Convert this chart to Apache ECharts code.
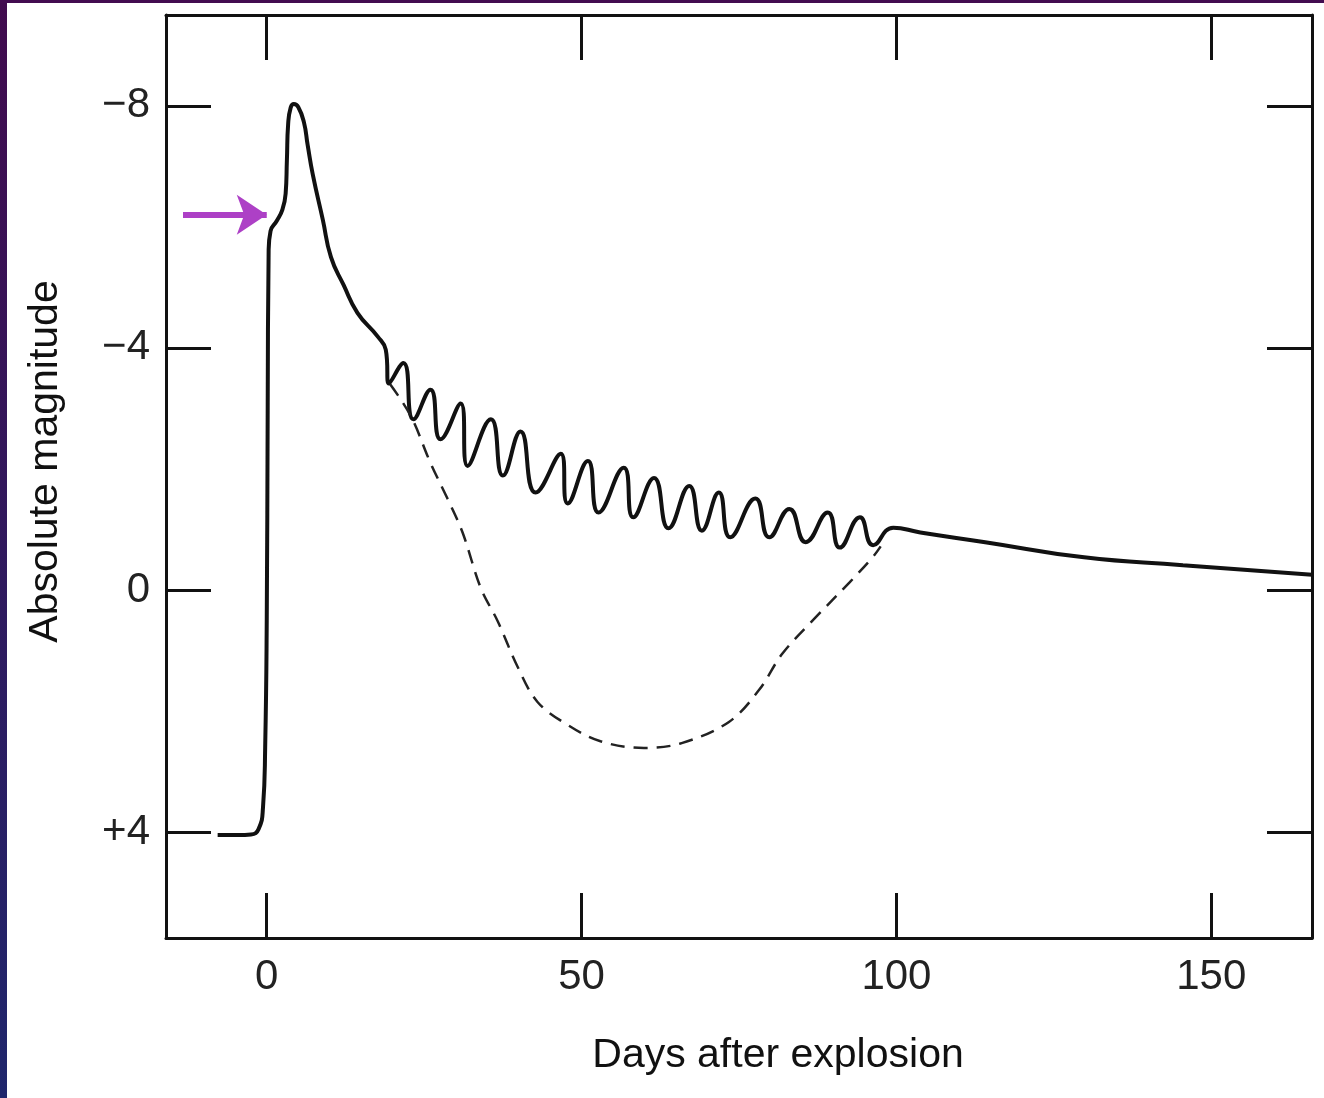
<!DOCTYPE html>
<html>
<head>
<meta charset="utf-8">
<script src="https://cdn.jsdelivr.net/npm/echarts@6/dist/echarts.min.js"></script>
<style>
html, body { margin: 0; padding: 0; background: #fff; }
#chart { width: 1324px; height: 1098px; }
</style>
</head>
<body>
<div id="chart"></div>
<script>
// tick values and labels
var xTicks = [0, 50, 100, 150];
var yTicks = [-8, -4, 0, 4];
var yTickLabels = ['\u22128', '\u22124', '0', '+4'];

// observed light curve [days, absolute magnitude]
var lightCurve = [
    [-7.8, 4.05], [-4.5, 4.05], [-2.5, 4.04], [-1.3, 3.95], [-0.6, 3.6],
    [-0.25, 2.6], [0.0, 0.5], [0.15, -3.0], [0.3, -5.6], [0.6, -5.93],
    [1.6, -6.10], [2.5, -6.29], [3.0, -6.55], [3.2, -7.1], [3.4, -7.7],
    [3.8, -7.97], [4.3, -8.03], [5.0, -7.98], [5.9, -7.73], [6.5, -7.35],
    [7.3, -6.87], [8.9, -6.12], [10.2, -5.50], [12.2, -5.04], [14.4, -4.58],
    [17.6, -4.19], [18.9, -3.97], [19.4, -3.41], [21.7, -3.75], [23.3, -2.82],
    [26.0, -3.31], [27.6, -2.49], [30.8, -3.08], [31.9, -2.05], [35.6, -2.82],
    [37.5, -1.89], [40.3, -2.62], [42.7, -1.61], [46.7, -2.25], [47.8, -1.43],
    [51.0, -2.13], [52.7, -1.28], [56.7, -2.02], [58.2, -1.20], [61.5, -1.85],
    [63.8, -1.02], [67.1, -1.72], [69.1, -0.98], [71.8, -1.61], [73.6, -0.87],
    [77.6, -1.51], [79.8, -0.87], [83.0, -1.34], [85.6, -0.79], [89.1, -1.28],
    [91.0, -0.70], [94.2, -1.20], [96.3, -0.74], [99.5, -1.03], [103.8, -0.95],
    [114.1, -0.79], [129.8, -0.54], [145.5, -0.41], [166, -0.25]
];

// dashed curve under the oscillations
var dipCurve = [
    [19.6, -3.4], [22.9, -2.87], [26.0, -2.10], [28.7, -1.51], [31.1, -0.95],
    [34.0, -0.03], [36.7, 0.52], [39.8, 1.26], [43.0, 1.85], [47.8, 2.23],
    [53.0, 2.50], [59.9, 2.61], [65.9, 2.53], [73.4, 2.18], [78.2, 1.65],
    [81.9, 1.05], [87.2, 0.45], [92.6, -0.13], [96.3, -0.55], [97.5, -0.72]
];

// arrow pointing at the shoulder
var arrowFrom = [-13.3, -6.2];
var arrowTo = [0.0, -6.2];

var font = 'Liberation Sans, Arial, sans-serif';
var black = '#111';

function frameAxis(pos, isX) {
    return {
        type: 'value',
        position: pos,
        min: isX ? -16 : -9.5,
        max: isX ? 166 : 5.75,
        inverse: !isX,
        axisLine: { show: true, onZero: false, lineStyle: { color: black, width: 3 } },
        axisTick: {
            show: true, inside: true, length: 45,
            customValues: isX ? xTicks : yTicks,
            lineStyle: { color: black, width: 3 }
        },
        axisLabel: { show: false },
        splitLine: { show: false }
    };
}

var xBottom = frameAxis('bottom', true);
xBottom.axisLabel = {
    show: true, customValues: xTicks, fontSize: 42, fontFamily: font,
    color: '#222', margin: 18
};
xBottom.name = 'Days after explosion';
xBottom.nameLocation = 'middle';
xBottom.nameGap = 97;
xBottom.nameTextStyle = { fontSize: 41, fontFamily: font, color: '#111', padding: [0, 0, 0, 78] };

var yLeft = frameAxis('left', false);
yLeft.axisLabel = {
    show: true, customValues: yTicks, fontSize: 42, fontFamily: font,
    color: '#222', margin: 16,
    formatter: function (v) { return yTickLabels[yTicks.indexOf(v)]; }
};
yLeft.name = 'Absolute magnitude';
yLeft.nameLocation = 'middle';
yLeft.nameGap = 100;
yLeft.nameTextStyle = { fontSize: 41, fontFamily: font, color: '#111', padding: [0, 0, 0, 30] };

var chart = echarts.init(document.getElementById('chart'));
chart.setOption({
    animation: false,
    backgroundColor: '#fff',
    grid: { left: 166, right: 12, top: 15, bottom: 160, outerBoundsMode: 'none' },
    xAxis: [xBottom, frameAxis('top', true)],
    yAxis: [yLeft, frameAxis('right', false)],
    graphic: [
        {
            type: 'rect', shape: { x: 0, y: 0, width: 7, height: 1098 },
            style: { fill: new echarts.graphic.LinearGradient(0, 0, 0, 1, [
                { offset: 0, color: '#410b4e' }, { offset: 1, color: '#1f266c' }
            ]) }
        },
        { type: 'rect', shape: { x: 0, y: 0, width: 1324, height: 3 }, style: { fill: '#430c50' } }
    ],
    series: [
        {
            type: 'line',
            data: lightCurve,
            showSymbol: false,
            smooth: 0.5,
            lineStyle: { color: black, width: 4 },
            markLine: {
                silent: true,
                symbol: ['none', 'arrow'],
                symbolSize: [30, 30],
                label: { show: false },
                lineStyle: { color: '#ad40c6', width: 6, type: 'solid', cap: 'butt' },
                itemStyle: { color: '#ad40c6' },
                data: [[{ coord: arrowFrom }, { coord: arrowTo }]]
            }
        },
        {
            type: 'line',
            data: dipCurve,
            showSymbol: false,
            smooth: 0.35,
            lineStyle: { color: '#222', width: 2.5, type: [14, 9] }
        }
    ]
});
</script>
</body>
</html>
